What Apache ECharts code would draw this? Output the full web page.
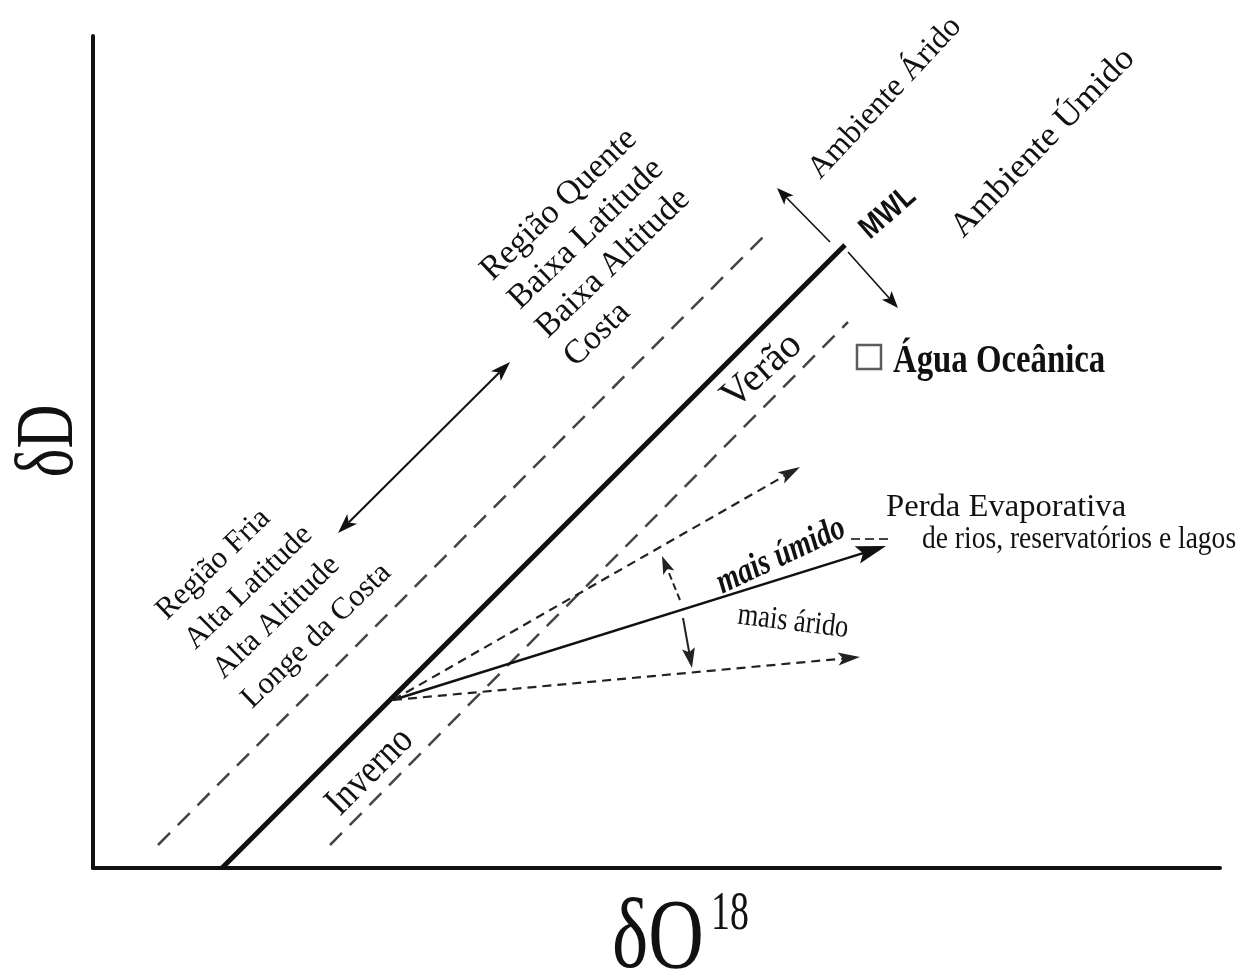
<!DOCTYPE html>
<html lang="pt">
<head>
<meta charset="utf-8">
<title>δD × δO18</title>
<script src="https://cdn.jsdelivr.net/npm/echarts@6.0.0/dist/echarts.min.js"></script>
<style>
  html, body { margin: 0; padding: 0; background: #fff; }
  #chart { width: 1242px; height: 976px; }
</style>
</head>
<body>
<div id="chart"></div>
<script>
// Schematic units: δO18 along x (0–1127), δD along y (0–832)
const xExtent = [0, 1127];
const yExtent = [0, 832];

// Meteoric water line (MWL) and its two dashed parallel bounds
const mwlLine    = [[129, 0], [752, 623]];
const upperBound = [[65, 23], [674, 635]];
const lowerBound = [[237, 23], [755, 546]];

// Arrows leaving the top of the MWL
const toArid  = [[737, 626], [684, 680]];
const toHumid = [[755, 616], [805, 560]];

// Warm <-> cold double arrow
const climateShift = [[245, 335], [417, 506]];

// Evaporation fan starting on the MWL
const evapMain    = [[300, 168], [793, 322]];
const evapHumid   = [[300, 168], [707, 401]];
const evapArid    = [[300, 168], [767, 211]];
const evapTail    = [[758, 329], [800, 329]];
const towardHumid = [[587, 268], [569, 312]];
const towardArid  = [[590, 250], [599, 200]];

// Ocean water point
const oceanWater = [[776, 511]];

// Text
const warmRegion = ['Região Quente', 'Baixa Latitude', 'Baixa Altitude', 'Costa'];
const coldRegion = ['Região Fria', 'Alta Latitude', 'Alta Altitude', 'Longe da Costa'];
const evapLabel  = ['Perda Evaporativa', 'de rios, reservatórios e lagos'];
const xTitle = ['δO', '18'];
const yTitle = 'δD';

const INK = '#111';
const GREY = '#444';
const SERIF = 'Liberation Serif';

const chart = echarts.init(document.getElementById('chart'), null, { renderer: 'canvas' });

function arrowHead(tip, ux, uy, h, color) {
  const px = -uy, py = ux, w = h.width / 2;
  const bx = tip[0] - ux * h.len, by = tip[1] - uy * h.len;
  const nx = tip[0] - ux * (h.len - h.notch), ny = tip[1] - uy * (h.len - h.notch);
  return {
    type: 'polygon',
    shape: { points: [tip, [bx + px * w, by + py * w], [nx, ny], [bx - px * w, by - py * w]] },
    style: { fill: color }
  };
}

// One custom series per line style; each item is a segment [x1, y1, x2, y2]
function segmentSeries(name, segments, look) {
  return {
    name,
    type: 'custom',
    coordinateSystem: 'cartesian2d',
    silent: true,
    clip: false,
    z: look.z || 2,
    data: segments.map(s => [s[0][0], s[0][1], s[1][0], s[1][1]]),
    encode: { x: [0, 2], y: [1, 3] },
    renderItem: function (params, api) {
      const a = api.coord([api.value(0), api.value(1)]);
      const b = api.coord([api.value(2), api.value(3)]);
      const dx = b[0] - a[0], dy = b[1] - a[1];
      const len = Math.hypot(dx, dy);
      const ux = dx / len, uy = dy / len;
      let s = a.slice(), e = b.slice();
      const kids = [];
      if (look.head) {
        const h = look.head;
        e = [b[0] - ux * (h.len - h.notch), b[1] - uy * (h.len - h.notch)];
        kids.push(arrowHead(b, ux, uy, h, look.color));
      }
      if (look.tail) {
        const h = look.tail;
        s = [a[0] + ux * (h.len - h.notch), a[1] + uy * (h.len - h.notch)];
        kids.push(arrowHead(a, -ux, -uy, h, look.color));
      }
      kids.unshift({
        type: 'line',
        shape: { x1: s[0], y1: s[1], x2: e[0], y2: e[1] },
        style: { stroke: look.color, lineWidth: look.width, lineDash: look.dash || null, lineCap: 'butt' }
      });
      return { type: 'group', children: kids };
    }
  };
}

const hiddenAxis = {
  type: 'value',
  axisLine: { show: true, onZero: false, lineStyle: { color: INK, width: 4 } },
  axisTick: { show: false },
  axisLabel: { show: false },
  splitLine: { show: false }
};

chart.setOption({
  backgroundColor: '#fff',
  animation: false,
  grid: { left: 93, right: 22, top: 36, bottom: 108 },
  xAxis: Object.assign({}, hiddenAxis, { min: xExtent[0], max: xExtent[1] }),
  yAxis: Object.assign({}, hiddenAxis, { min: yExtent[0], max: yExtent[1] }),
  series: [
    segmentSeries('MWL', [mwlLine], { color: INK, width: 5, z: 3 }),
    segmentSeries('limites', [upperBound, lowerBound], { color: GREY, width: 2.5, dash: [17, 11] }),
    segmentSeries('ambiente', [toArid, toHumid], { color: INK, width: 1.6, head: { len: 17, width: 13, notch: 4 } }),
    segmentSeries('clima', [climateShift], { color: INK, width: 2, head: { len: 20, width: 14, notch: 5 }, tail: { len: 20, width: 14, notch: 5 } }),
    segmentSeries('evaporação', [evapMain], { color: INK, width: 2.5, head: { len: 30, width: 18, notch: 6 } }),
    segmentSeries('evaporação limites', [evapHumid, evapArid], { color: '#222', width: 2.2, dash: [9, 6], head: { len: 22, width: 13, notch: 5 } }),
    segmentSeries('evaporação resto', [evapTail], { color: GREY, width: 2, dash: [9, 5] }),
    segmentSeries('mais úmido', [towardHumid], { color: '#222', width: 2, dash: [7, 4], head: { len: 18, width: 12, notch: 4 } }),
    segmentSeries('mais árido', [towardArid], { color: '#222', width: 2, head: { len: 20, width: 13, notch: 4 } }),
    {
      name: 'Água Oceânica',
      type: 'scatter',
      silent: true,
      data: oceanWater,
      symbol: 'rect',
      symbolSize: 24,
      itemStyle: { color: '#fff', borderColor: '#333', borderWidth: 2.5 },
      z: 4
    }
  ]
});

// Annotations placed in chart units via the grid's own scales
const D2R = Math.PI / 180;
function toPx(pt) { return chart.convertToPixel({ gridIndex: 0 }, pt); }
function textEl(text, x, y, opt) {
  return {
    type: 'text', x, y, silent: true, z: 10,
    rotation: (opt.rot || 0) * D2R,
    scaleX: opt.sx || 1,
    style: {
      text, font: opt.font, fill: INK,
      align: opt.align || 'center', verticalAlign: 'middle',
      textAlign: opt.align || 'center', textVerticalAlign: 'middle'
    }
  };
}
function label(text, at, opt) {
  const p = toPx(at);
  return textEl(text, p[0], p[1], opt);
}
function block(lines, at, opt) {
  const p = toPx(at);
  const r = opt.rot * D2R;
  const sx = Math.sin(r) * opt.gap, sy = Math.cos(r) * opt.gap;
  return lines.map((t, i) => textEl(t, p[0] + sx * i, p[1] + sy * i, Object.assign({ align: 'left' }, opt)));
}

const graphics = [].concat(
  block(warmRegion, [393, 593], { rot: 44, gap: 40, font: '34px ' + SERIF }),
  block(coldRegion, [68, 253], { rot: 44, gap: 41, font: '31px ' + SERIF }),
  [
    label('Ambiente Árido', [792, 770], { rot: 47, font: '32px ' + SERIF }),
    label('Ambiente Úmido', [950, 725], { rot: 46, font: '34px ' + SERIF, sx: 1.05 }),
    label('MWL', [795, 655], { rot: 41, font: 'bold 31px Liberation Sans', sx: 0.85 }),
    label('Verão', [669, 497], { rot: 42, font: '40px ' + SERIF }),
    label('Inverno', [277, 96], { rot: 45, font: '40px ' + SERIF, sx: 0.85 }),
    label('Água Oceânica', [800, 506], { align: 'left', font: 'bold 40px ' + SERIF, sx: 0.82 }),
    label(evapLabel[0], [793, 360], { align: 'left', font: '32px ' + SERIF, sx: 1.02 }),
    label(evapLabel[1], [829, 328], { align: 'left', font: '32px ' + SERIF, sx: 0.86 }),
    label('mais úmido', [688, 312], { rot: 25, font: 'italic bold 36px ' + SERIF, sx: 0.8 }),
    label('mais árido', [700, 246], { rot: -7, font: '32px ' + SERIF, sx: 0.83 }),
    // axis titles
    textEl(yTitle, 50, 441, { rot: 90, font: '82px ' + SERIF, sx: 0.74 }),
    textEl(xTitle[0], 612, 941, { align: 'left', font: '100px ' + SERIF, sx: 0.77 }),
    textEl(xTitle[1], 711, 915, { align: 'left', font: '54px ' + SERIF, sx: 0.7 })
  ]
);

chart.setOption({ graphic: { elements: graphics } });
</script>
</body>
</html>
